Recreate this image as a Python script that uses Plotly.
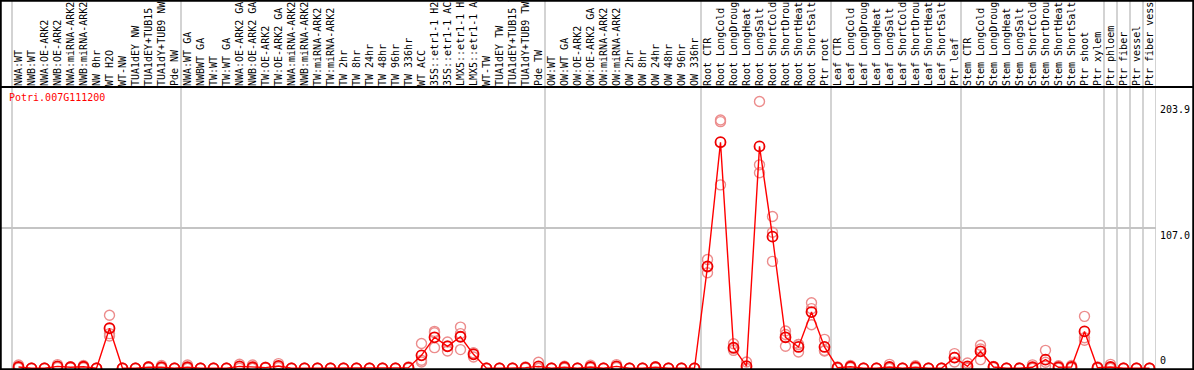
import plotly.graph_objects as go

gene = "Potri.007G111200"

samples = [
    "NWA:WT", "NWB:WT", "NWA:OE-ARK2", "NWB:OE-ARK2", "NWA:miRNA-ARK2", "NWB:miRNA-ARK2",
    "NW 0hr", "WT H2O", "WT-NW", "TUA1dEY NW", "TUA1dEY+TUB15 NW", "TUA1dY+TUB9 NW", "Pde NW",
    "NWA:WT GA", "NWBWT GA", "TW:WT", "TW:WT GA", "NWA:OE-ARK2 GA", "NWB:OE-ARK2 GA",
    "TW:OE-ARK2", "TW:OE-ARK2 GA", "NWA:miRNA-ARK2", "NWB:miRNA-ARK2", "TW:miRNA-ARK2",
    "TW:miRNA-ARK2", "TW 2hr", "TW 8hr", "TW 24hr", "TW 48hr", "TW 96hr", "TW 336hr",
    "WT ACC", "35S::etr1-1 H2O", "35S::etr1-1 ACC", "LMX5::etr1-1 H2O", "LMX5::etr1-1 ACC",
    "WT-TW", "TUA1dEY TW", "TUA1dEY+TUB15 TW", "TUA1dY+TUB9 TW", "Pde TW",
    "OW:WT", "OW:WT GA", "OW:OE-ARK2", "OW:OE-ARK2 GA", "OW:miRNA-ARK2", "OW:miRNA-ARK2",
    "OW 2hr", "OW 8hr", "OW 24hr", "OW 48hr", "OW 96hr", "OW 336hr",
    "Root CTR", "Root LongCold", "Root LongDrought", "Root LongHeat", "Root LongSalt",
    "Root ShortCold", "Root ShortDrought", "Root ShortHeat", "Root ShortSalt", "Ptr root",
    "Leaf CTR", "Leaf LongCold", "Leaf LongDrought", "Leaf LongHeat", "Leaf LongSalt",
    "Leaf ShortCold", "Leaf ShortDrought", "Leaf ShortHeat", "Leaf ShortSalt", "Ptr leaf",
    "Stem CTR", "Stem LongCold", "Stem LongDrought", "Stem LongHeat", "Stem LongSalt",
    "Stem ShortCold", "Stem ShortDrought", "Stem ShortHeat", "Stem ShortSalt", "Ptr shoot",
    "Ptr xylem", "Ptr phloem", "Ptr fiber", "Ptr vessel", "Ptr fiber vessel",
]

# group boundaries (after these sample indices a separator is drawn)
group_ends = [12, 40, 52, 62, 72, 83, 84, 85, 86, 87]

mean_vals = [
    1.0, 0, 0, 1.5, 0.8, 1.2, 0, 30.6, 0, 0, 0.8, 0.8, 0,
    0.8, 0, 0, 0, 1.5, 0.8, 0.5, 1.8, 0, 0, 0, 0, 0, 0, 0, 0, 0, 0.5,
    9.9, 23.7, 16.8, 24.1, 10.7, 0, 0, 0, 0.5, 1.5,
    0, 0.8, 0, 1.0, 0, 1.5, 0, 0, 0.8, 0, 0, 0,
    77.9, 172.8, 15.8, 1.6, 169.6, 100.6, 23.7, 16.3, 43.0, 16.3,
    0.5, 1.2, 0, 0, 1.0, 0, 0.8, 0, 0, 8.1,
    1.5, 13.0, 1.0, 0, 0, 0.8, 6.6, 0.8, 1.0, 28.2,
    0.5, 1.0, 0, 0, 0,
]

rep1 = [
    2.5, 0, 0, 2.8, 1.2, 2.2, 0, 40.5, 0, 0, 1.2, 2.2, 0,
    2.5, 0, 0, 0, 3.1, 2.5, 0.8, 3.6, 0, 0, 0, 0, 0, 0, 0, 0, 0, 1.0,
    18.9, 28.2, 20.1, 31.5, 11.7, 0, 0, 0, 1.0, 4.6,
    0, 1.6, 0, 2.4, 0, 2.8, 0, 0, 1.2, 0, 0, 0,
    83.2, 189.8, 18.8, 4.8, 203.9, 116.0, 28.5, 18.2, 50.1, 22.1,
    1.0, 2.2, 0, 0, 3.0, 0, 2.0, 0, 0, 11.2,
    4.0, 17.6, 1.5, 0, 0, 2.6, 13.7, 2.0, 2.2, 39.7,
    1.0, 3.0, 0, 0, 0,
]

rep2 = [
    0.3, 0, 0, 1.2, 0.8, 1.0, 0, 26.5, 0, 0, 0.8, 0.2, 0,
    0, 0, 0, 0, 1.4, 0, 0.5, 1.2, 0, 0, 0, 0, 0, 0, 0, 0, 0, 0.5,
    6.1, 27.2, 17.0, 26.5, 11.8, 0, 0, 0, 0.5, 0,
    0, 0.8, 0, 0.4, 0, 1.2, 0, 0, 0.8, 0, 0, 0,
    77.5, 188.5, 15.0, 0, 155.5, 104.0, 25.8, 18.2, 45.6, 13.2,
    0.5, 1.0, 0, 0, 0, 0, 0.4, 0, 0, 8.3,
    0.5, 14.8, 1.0, 0, 0, 0, 4.6, 0.4, 0.6, 23.4,
    0.5, 0, 0, 0, 0,
]

rep3 = [
    0.2, 0, 0, 0.5, 0.4, 0.4, 0, 24.7, 0, 0, 0.4, 0, 0,
    0, 0, 0, 0, 0, 0, 0.2, 0.6, 0, 0, 0, 0, 0, 0, 0, 0, 0, 0,
    4.8, 15.8, 13.2, 14.3, 8.6, 0, 0, 0, 0, 0,
    0, 0, 0, 0.2, 0, 0.5, 0, 0, 0.4, 0, 0, 0,
    73.0, 140.2, 13.7, 0, 149.4, 81.7, 16.8, 12.5, 33.3, 13.6,
    0, 0.4, 0, 0, 0, 0, 0, 0, 0, 4.8,
    0, 6.6, 0.5, 0, 0, 0, 1.5, 0, 0.2, 21.4,
    0, 0, 0, 0, 0,
]

y_tick_vals = [203.9, 107.0, 0]
y_tick_text = ["203.9", "107.0", "0"]

W, H = 1194, 370
PLOT_RIGHT = 1156
LABEL_BOTTOM = 87

xs = list(range(len(samples)))
rep_x = xs + xs + xs
rep_y = rep1 + rep2 + rep3

mono = "DejaVu Sans Mono"

fig = go.Figure()
fig.add_trace(go.Scatter(
    x=rep_x, y=rep_y, mode="markers",
    marker=dict(symbol="circle-open", size=10, color="rgb(236,140,140)", line=dict(width=1.4)),
    hoverinfo="skip", showlegend=False,
))
fig.add_trace(go.Scatter(
    x=xs, y=mean_vals, mode="lines+markers",
    line=dict(color="#ff0000", width=1.4),
    marker=dict(symbol="circle-open", size=10, color="#ee0000", line=dict(width=1.8)),
    showlegend=False,
))

shapes = []
bounds = [-0.5] + [g + 0.5 for g in group_ends]
for b in bounds:
    shapes.append(dict(type="line", xref="x", yref="paper", x0=b, x1=b, y0=0, y1=1,
                       line=dict(color="#c4c4c4", width=1.5), layer="below"))
shapes.append(dict(type="line", xref="paper", yref="paper", x0=0, x1=1,
                   y0=(H - LABEL_BOTTOM) / H, y1=(H - LABEL_BOTTOM) / H,
                   line=dict(color="black", width=2)))
shapes.append(dict(type="rect", xref="paper", yref="paper",
                   x0=0.75 / W, x1=(W - 0.75) / W, y0=0.75 / H, y1=(H - 0.75) / H,
                   line=dict(color="black", width=2)))

annotations = [dict(text=gene, xref="paper", yref="paper", x=7 / W, y=(H - 97) / H,
                    xanchor="left", yanchor="middle", showarrow=False,
                    font=dict(family=mono, size=10, color="#ff0000"))]
for v, t in zip(y_tick_vals, y_tick_text):
    annotations.append(dict(text=t, xref="paper", yref="y", x=1158 / W, y=v,
                            xanchor="left", yanchor="bottom" if v == 0 else "top",
                            showarrow=False, font=dict(family=mono, size=10, color="black")))

spacing = 13.0
x_max = len(samples) - 0.5
x_min = x_max - PLOT_RIGHT / spacing

px_per = 140 / 107.0
zero_px = 368.3
y_min = -(H - zero_px) / px_per
y_max = (zero_px - LABEL_BOTTOM) / px_per

fig.update_layout(
    width=W, height=H,
    margin=dict(l=0, r=0, t=0, b=0, autoexpand=False),
    paper_bgcolor="white", plot_bgcolor="white",
    shapes=shapes, annotations=annotations,
    xaxis=dict(domain=[0, PLOT_RIGHT / W], range=[x_min, x_max], side="top",
               tickmode="array", tickvals=xs, ticktext=samples, tickangle=-90,
               tickfont=dict(family=mono, size=10, color="black"),
               showgrid=False, zeroline=False, showline=False, ticks="",
               automargin=False),
    yaxis=dict(domain=[0, (H - LABEL_BOTTOM) / H], range=[y_min, y_max],
               tickmode="array", tickvals=[107.0], showticklabels=False,
               showgrid=True, gridcolor="#c4c4c4", gridwidth=1.5,
               zeroline=False, showline=False, ticks="", automargin=False),
    showlegend=False,
)

fig.write_html(
    "out.html",
    config={"displayModeBar": False},
    post_script="document.body.style.margin='0';document.body.style.overflow='hidden';",
)
